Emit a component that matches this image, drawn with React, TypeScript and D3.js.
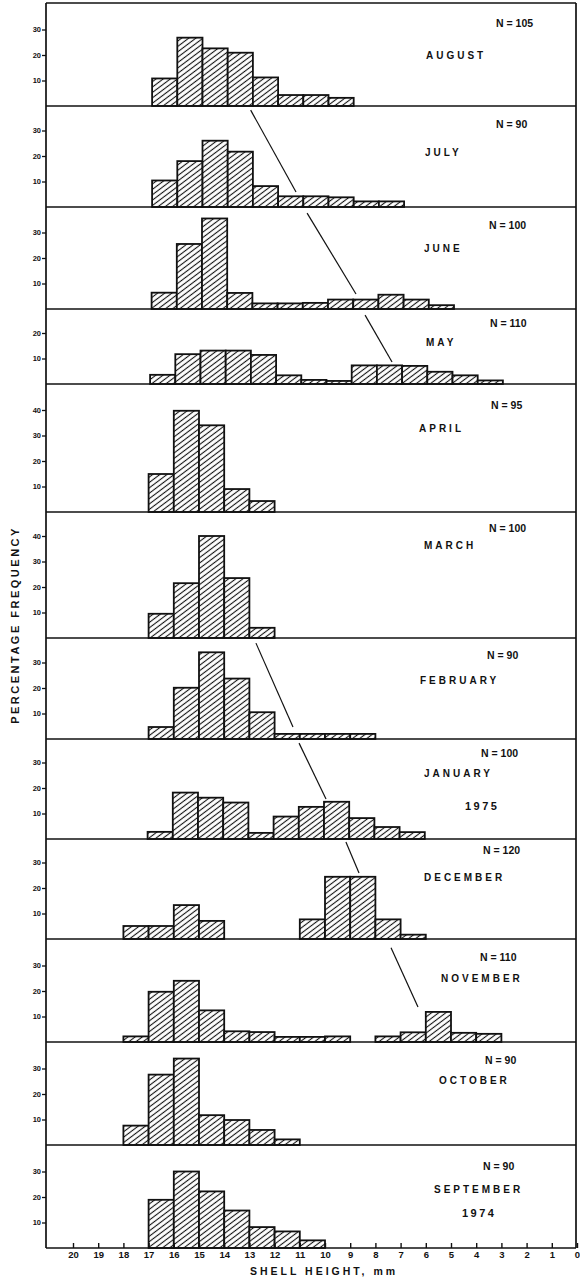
import { useEffect, useRef } from "react";
import * as d3 from "d3";

// months, top panel to bottom panel
const months = ["AUGUST", "JULY", "JUNE", "MAY", "APRIL", "MARCH", "FEBRUARY", "JANUARY", "DECEMBER", "NOVEMBER", "OCTOBER", "SEPTEMBER"];
const sampleSizes = [105, 90, 100, 110, 95, 100, 90, 100, 120, 110, 90, 90];
const yearLabels = ["", "", "", "", "", "", "", "1975", "", "", "", "1974"];

// [bin start in mm (bin runs to start-1), percentage]
const august = [[17, 10.8], [16, 26.8], [15, 22.6], [14, 20.9], [13, 11.2], [12, 4.3], [11, 4.3], [10, 3.2]];
const july = [[17, 10.4], [16, 18], [15, 26], [14, 21.7], [13, 8.2], [12, 4.2], [11, 4.2], [10, 3.8], [9, 2.2], [8, 2.2]];
const june = [[17, 6.4], [16, 25.5], [15, 35.5], [14, 6.3], [13, 2.2], [12, 2.2], [11, 2.4], [10, 3.7], [9, 3.7], [8, 5.6], [7, 3.7], [6, 1.5]];
const may = [[17, 3.6], [16, 11.7], [15, 13.1], [14, 13.1], [13, 11.4], [12, 3.4], [11, 1.6], [10, 1.2], [9, 7.3], [8, 7.3], [7, 7.1], [6, 4.8], [5, 3.4], [4, 1.4]];
const april = [[17, 14.9], [16, 39.7], [15, 34], [14, 9], [13, 4.3]];
const march = [[17, 9.5], [16, 21.5], [15, 40], [14, 23.5], [13, 4]];
const february = [[17, 4.7], [16, 20.1], [15, 34], [14, 23.7], [13, 10.5], [12, 2], [11, 2], [10, 2], [9, 2]];
const january = [[17, 2.8], [16, 18.2], [15, 16.2], [14, 14.3], [13, 2.4], [12, 8.8], [11, 12.6], [10, 14.6], [9, 8.2], [8, 4.7], [7, 2.7]];
const december = [[18, 5.1], [17, 5.1], [16, 13.3], [15, 7.1], [11, 7.7], [10, 24.4], [9, 24.4], [8, 7.7], [7, 1.7]];
const november = [[18, 2.2], [17, 19.7], [16, 24], [15, 12.4], [14, 4.2], [13, 3.9], [12, 2], [11, 2], [10, 2.2], [8, 2.2], [7, 3.8], [6, 11.8], [5, 3.6], [4, 3.2]];
const october = [[18, 7.6], [17, 27.6], [16, 33.9], [15, 11.7], [14, 9.8], [13, 5.9], [12, 2.2]];
const september = [[17, 18.9], [16, 30], [15, 22.2], [14, 14.7], [13, 8.2], [12, 6.5], [11, 3]];
const panelBars = [august, july, june, may, april, march, february, january, december, november, october, september];

const yTicks = [[30, 20, 10], [30, 20, 10], [30, 20, 10], [20, 10], [40, 30, 20, 10], [40, 30, 20, 10], [30, 20, 10], [30, 20, 10], [30, 20, 10], [30, 20, 10], [30, 20, 10], [30, 20, 10]];
const xTicks = d3.range(20, -1, -1);

// cohort lines: panel index, [mm, %] start and end (start sits just under the panel above)
const cohortLines = [
  { panel: 1, from: [12.95, 38], to: [11.15, 5.9] },
  { panel: 2, from: [10.71, 37.6], to: [8.77, 5.9] },
  { panel: 3, from: [8.41, 27], to: [7.34, 8.6] },
  { panel: 6, from: [12.74, 37.6], to: [11.27, 4.7] },
  { panel: 7, from: [11.03, 37.6], to: [9.96, 15.7] },
  { panel: 8, from: [9.17, 38], to: [8.65, 25.9] },
  { panel: 9, from: [7.38, 37], to: [6.31, 13.7] },
];

// layout
const W = 580;
const H = 1279;
const frameTop = 3;
const axisX = 46;
const rightX = 576;
const baselines = [106, 207, 309, 384, 512, 638, 739, 839, 939, 1042, 1145, 1248];
const barShift = [3.5, 3.5, 3, 1.5, 0, 0, 0, -1, 0, 0, 0, 0];
const pxPerTen = 25.5;
const nX = [496, 496, 489, 490, 491, 489, 487, 481, 483, 480, 485, 483];
const nY = [23, 124, 225, 323, 405, 528, 655, 753, 850, 957, 1060, 1166];
const mX = [426, 425, 424, 426, 419, 424, 420, 424, 424, 441, 439, 434];
const mY = [55, 152, 248, 342, 428, 545, 680, 773, 877, 978, 1080, 1189];
const yearX = [0, 0, 0, 0, 0, 0, 0, 465, 0, 0, 0, 462];
const yearY = [0, 0, 0, 0, 0, 0, 0, 806, 0, 0, 0, 1213];

const font = "'Liberation Sans', Arial, sans-serif";

export default function App() {
  const ref = useRef<SVGSVGElement>(null);

  useEffect(() => {
    const svg = d3.select(ref.current);
    svg.selectAll("*").remove();

    const pat = svg
      .append("defs")
      .append("pattern")
      .attr("id", "hatch")
      .attr("patternUnits", "userSpaceOnUse")
      .attr("width", 4.3)
      .attr("height", 4.3)
      .attr("patternTransform", "rotate(-37)");
    pat.append("rect").attr("width", 4.3).attr("height", 4.3).attr("fill", "#fff");
    pat
      .append("line")
      .attr("x1", 0)
      .attr("x2", 4.3)
      .attr("y1", 2.15)
      .attr("y2", 2.15)
      .attr("stroke", "#111")
      .attr("stroke-width", 1.1);

    const x = d3.scaleLinear().domain([20, 0]).range([73, 577]);
    const yScales = baselines.map((b) =>
      d3.scaleLinear().domain([0, 10]).range([b, b - pxPerTen])
    );

    // panels
    panelBars.forEach((bars, i) => {
      const y = yScales[i];
      const xb = x.copy().range([73 + barShift[i], 577 + barShift[i]]);
      const g = svg.append("g");

      g.selectAll("rect")
        .data(bars)
        .join("rect")
        .attr("x", (d) => xb(d[0]))
        .attr("width", (d) => xb(d[0] - 1) - xb(d[0]))
        .attr("y", (d) => y(d[1]))
        .attr("height", (d) => y(0) - y(d[1]))
        .attr("fill", "url(#hatch)")
        .attr("stroke", "#111")
        .attr("stroke-width", 1.8);

      const ax = g
        .append("g")
        .attr("transform", `translate(${axisX},0)`)
        .call(
          d3.axisLeft(y).tickValues(yTicks[i]).tickSizeInner(4).tickSizeOuter(0).tickPadding(1)
        );
      ax.select(".domain").remove();
      ax.selectAll("line").attr("stroke", "#111").attr("stroke-width", 1.3);
      ax.selectAll("text")
        .attr("font-family", font)
        .attr("font-weight", "bold")
        .attr("font-size", 7.5)
        .attr("fill", "#111");

      g.append("text")
        .attr("x", nX[i])
        .attr("y", nY[i])
        .attr("dominant-baseline", "central")
        .attr("font-family", font)
        .attr("font-weight", "bold")
        .attr("font-size", 10.5)
        .attr("fill", "#111")
        .text(`N = ${sampleSizes[i]}`);

      g.append("text")
        .attr("x", mX[i])
        .attr("y", mY[i])
        .attr("dominant-baseline", "central")
        .attr("font-family", font)
        .attr("font-weight", "bold")
        .attr("font-size", 10)
        .attr("letter-spacing", 3)
        .attr("fill", "#111")
        .text(months[i]);

      if (yearLabels[i]) {
        g.append("text")
          .attr("x", yearX[i])
          .attr("y", yearY[i])
          .attr("dominant-baseline", "central")
          .attr("font-family", font)
          .attr("font-weight", "bold")
          .attr("font-size", 11)
          .attr("letter-spacing", 2.5)
          .attr("fill", "#111")
          .text(yearLabels[i]);
      }

      // panel base line
      g.append("line")
        .attr("x1", axisX)
        .attr("x2", rightX)
        .attr("y1", baselines[i])
        .attr("y2", baselines[i])
        .attr("stroke", "#111")
        .attr("stroke-width", 1.7);
    });

    // frame
    const frame = svg.append("g").attr("stroke", "#111").attr("stroke-width", 1.7);
    frame.append("line").attr("x1", axisX).attr("x2", rightX).attr("y1", frameTop).attr("y2", frameTop);
    frame.append("line").attr("x1", axisX).attr("x2", axisX).attr("y1", frameTop).attr("y2", baselines[11]);
    frame.append("line").attr("x1", rightX).attr("x2", rightX).attr("y1", frameTop).attr("y2", baselines[11]);

    // cohort lines
    svg
      .append("g")
      .selectAll("line")
      .data(cohortLines)
      .join("line")
      .attr("x1", (d) => x(d.from[0]))
      .attr("y1", (d) => yScales[d.panel](d.from[1]))
      .attr("x2", (d) => x(d.to[0]))
      .attr("y2", (d) => yScales[d.panel](d.to[1]))
      .attr("stroke", "#111")
      .attr("stroke-width", 1.2);

    // bottom axis
    const bx = svg
      .append("g")
      .attr("transform", `translate(0,${baselines[11]})`)
      .call(d3.axisBottom(x).tickValues(xTicks).tickFormat(d3.format("d")).tickSizeInner(-5).tickSizeOuter(0).tickPadding(3));
    bx.select(".domain").remove();
    bx.selectAll("line").attr("stroke", "#111").attr("stroke-width", 1.4);
    bx.selectAll("text")
      .attr("font-family", font)
      .attr("font-weight", "bold")
      .attr("font-size", 9.5)
      .attr("fill", "#111");

    svg
      .append("text")
      .attr("x", 324)
      .attr("y", 1271)
      .attr("text-anchor", "middle")
      .attr("dominant-baseline", "central")
      .attr("font-family", font)
      .attr("font-weight", "bold")
      .attr("font-size", 10.5)
      .attr("letter-spacing", 3)
      .attr("fill", "#111")
      .text("SHELL HEIGHT, mm");

    svg
      .append("text")
      .attr("transform", "translate(15,625) rotate(-90)")
      .attr("text-anchor", "middle")
      .attr("dominant-baseline", "central")
      .attr("font-family", font)
      .attr("font-weight", "bold")
      .attr("font-size", 11)
      .attr("letter-spacing", 2.5)
      .attr("fill", "#111")
      .text("PERCENTAGE FREQUENCY");
  }, []);

  return (
    <svg
      ref={ref}
      width={W}
      height={H}
      style={{ position: "absolute", left: 0, top: 0, background: "#fff" }}
    />
  );
}
